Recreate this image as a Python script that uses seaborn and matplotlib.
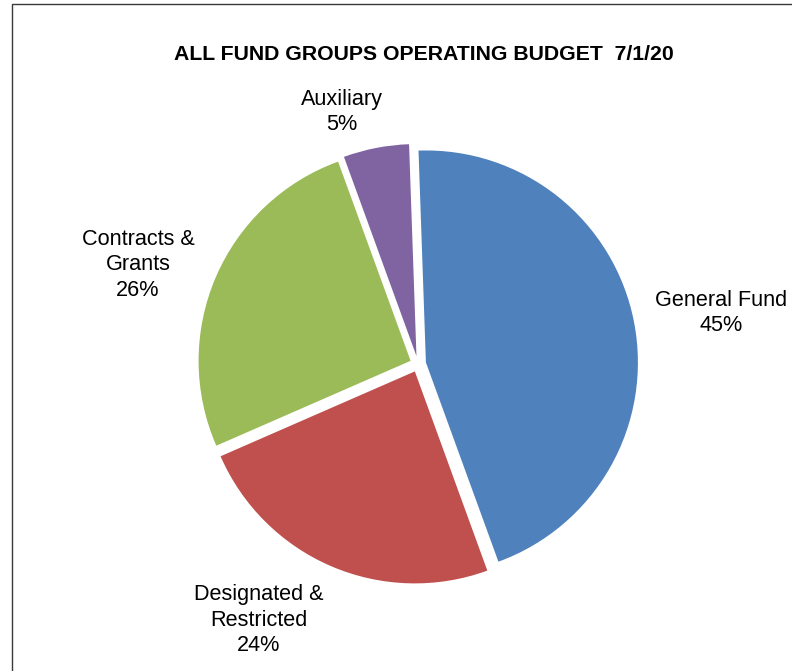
import matplotlib
matplotlib.use("Agg")
import matplotlib.pyplot as plt
import seaborn as sns
from matplotlib.patches import Rectangle

# Operating budget shares by fund group (clockwise from 12 o'clock)
categories = ["General Fund", "Designated &\nRestricted", "Contracts &\nGrants", "Auxiliary"]
shares = [45, 24, 26, 5]
colors = ["#4F81BD", "#C0504D", "#9BBB59", "#8064A2"]
title = "ALL FUND GROUPS OPERATING BUDGET  7/1/20"

sns.set_theme(style="white")
plt.rcParams["font.family"] = ["Liberation Sans", "DejaVu Sans"]

W, H = 792, 671
fig = plt.figure(figsize=(W / 100, H / 100), dpi=100)
ax = fig.add_axes([0, 0, 1, 1])

ax.pie(shares, colors=colors, startangle=92, counterclock=False,
       radius=1, explode=[0.038] * len(shares),
       wedgeprops=dict(linewidth=0))

# pixel geometry of the pie
R = 212
cx, cy = 418, 364
ax.set_xlim(-cx / R, (W - cx) / R)
ax.set_ylim(-(H - cy) / R, cy / R)
ax.set_aspect("equal")
ax.axis("off")

def px(x, y):
    return (x - cx) / R, (cy - y) / R

label_pos = [(721, 313), (259, 620), (138, 265), (342, 112)]
for name, val, (lx, ly) in zip(categories, shares, label_pos):
    x, y = px(lx, ly)
    ax.text(x, y, f"{name}\n{val}%", ha="center", va="center",
            fontsize=15.6, color="black", linespacing=1.27)

tx, ty = px(424, 54)
ax.text(tx, ty, title, ha="center", va="center", fontsize=15.3,
        fontweight="bold", color="black")

# chart-area frame (right and bottom edges run off the canvas)
fig.patches.append(Rectangle((12 / W, -0.1), 1.2, 1.1 - 4 / H,
                             transform=fig.transFigure, fill=False,
                             edgecolor="#3a3a3a", linewidth=1.0))

fig.savefig("out.png", dpi=100)
